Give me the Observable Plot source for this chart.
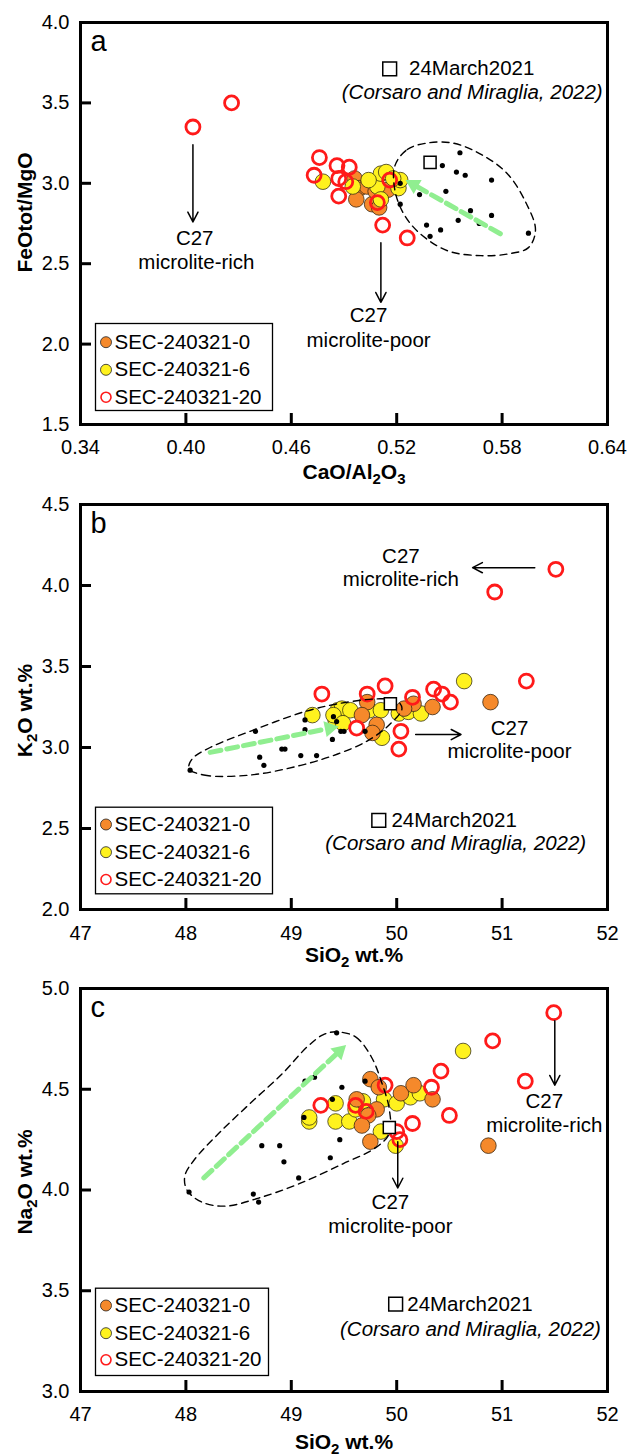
<!DOCTYPE html>
<html>
<head>
<meta charset="utf-8">
<script src="https://cdn.jsdelivr.net/npm/d3@7"></script>
<script src="https://cdn.jsdelivr.net/npm/@observablehq/plot@0.6"></script>
<style>
  body { margin: 0; background: #fff; }
  #wrap { position: relative; width: 631px; height: 1454px; background: #fff; }
  #wrap svg { position: absolute; left: 0; }
</style>
</head>
<body>
<div id="wrap"></div>
<script>
// ---------- DATA ----------
const seriesNames = ["SEC-240321-0", "SEC-240321-6", "SEC-240321-20"];
const refName = "24March2021";
const refCitation = "(Corsaro and Miraglia, 2022)";

// Panel a : CaO/Al2O3 (x) vs FeOtot/MgO (y)
const aSEC0 = [[0.496,3.03],[0.499,2.97],[0.497,2.90],[0.503,2.98],[0.506,2.87],[0.508,2.95],[0.515,2.96],[0.510,2.85]];
const aSEC6 = [[0.478,3.01],[0.495,2.98],[0.509,2.98],[0.511,3.06],[0.514,3.07],[0.521,2.97],[0.522,3.02],[0.511,2.90],[0.518,3.03],[0.504,3.02]];
const aSEC20 = [[0.404,3.35],[0.426,3.50],[0.476,3.16],[0.473,3.05],[0.486,3.11],[0.493,3.10],[0.487,3.03],[0.491,3.01],[0.487,2.92],[0.509,2.88],[0.516,3.02],[0.512,2.74],[0.526,2.66]];
const aPrev = [[0.556,3.19],[0.546,3.11],[0.554,3.07],[0.559,3.05],[0.574,3.02],[0.522,3.00],[0.548,2.95],[0.533,2.93],[0.522,2.87],[0.562,2.83],[0.574,2.80],[0.555,2.77],[0.567,2.75],[0.537,2.74],[0.545,2.71],[0.539,2.67],[0.595,2.69]];
const aMarch = [[0.539,3.13]];
const aField = [[0.519,3.11],[0.526,3.21],[0.537,3.25],[0.552,3.25],[0.568,3.18],[0.583,3.06],[0.594,2.87],[0.599,2.71],[0.595,2.60],[0.583,2.56],[0.568,2.55],[0.549,2.58],[0.533,2.69],[0.524,2.81],[0.519,2.955]];
const aTrend = [[0.579,2.686],[0.525,3.02]];
const aArrows = [{x1:0.404,y1:3.24,x2:0.404,y2:2.76},{x1:0.511,y1:2.63,x2:0.511,y2:2.26}];
const aNotes = [{x:0.405,y:2.655,t:"C27"},{x:0.406,y:2.51,t:"microlite-rich"},{x:0.504,y:2.178,t:"C27"},{x:0.504,y:2.022,t:"microlite-poor"}];
const aRefLabel = {square:[0.516,3.712], name:[0.527,3.712], cite:[0.563,3.567]};
const aXTicks = [0.34,0.40,0.46,0.52,0.58,0.64];
const aYTicks = [1.5,2.0,2.5,3.0,3.5,4.0];

// Panel b : SiO2 (x) vs K2O (y)
const bSEC0 = [[50.89,3.28],[50.34,3.25],[50.16,3.27],[50.07,3.24],[49.72,3.28],[49.67,3.20],[49.81,3.14],[49.77,3.09]];
const bSEC6 = [[50.64,3.41],[49.20,3.20],[49.44,3.23],[49.48,3.24],[49.56,3.23],[49.42,3.17],[49.74,3.23],[49.85,3.23],[50.02,3.21],[50.11,3.22],[50.23,3.21],[49.86,3.06],[49.40,3.20],[49.49,3.15]];
const bSEC20 = [[51.51,4.10],[50.93,3.96],[49.29,3.33],[49.72,3.33],[49.89,3.38],[50.15,3.31],[50.35,3.36],[50.43,3.33],[50.51,3.28],[51.23,3.41],[49.62,3.12],[50.04,3.10],[50.02,2.99]];
const bPrev = [[48.04,2.86],[48.66,3.10],[48.70,2.94],[48.74,2.89],[48.91,2.99],[48.94,2.99],[49.09,2.95],[49.24,2.95],[49.13,3.17],[49.13,3.11],[49.39,3.05],[49.47,3.10],[49.50,3.10],[49.70,3.10],[49.40,3.19],[49.43,3.16]];
const bMarch = [[49.94,3.27]];
const bField = [[48.03,2.87],[48.17,2.83],[48.61,2.83],[49.09,2.89],[49.44,2.96],[49.72,3.04],[49.93,3.14],[50.05,3.24],[50.00,3.29],[49.81,3.30],[49.44,3.27],[49.12,3.22],[48.61,3.10],[48.23,3.00],[48.06,2.93]];
const bTrend = [[48.23,2.97],[49.45,3.13]];
const bArrows = [{x1:51.31,y1:4.11,x2:50.72,y2:4.11},{x1:50.18,y1:3.08,x2:50.61,y2:3.08}];
const bNotes = [{x:50.04,y:4.179,t:"C27"},{x:50.04,y:4.037,t:"microlite-rich"},{x:51.07,y:3.12,t:"C27"},{x:51.07,y:2.977,t:"microlite-poor"}];
const bRefLabel = {square:[49.83,2.55], name:[49.95,2.55], cite:[50.56,2.405]};
const bXTicks = [47,48,49,50,51,52];
const bYTicks = [2.0,2.5,3.0,3.5,4.0,4.5];

// Panel c : SiO2 (x) vs Na2O (y)
const cSEC0 = [[49.75,4.55],[49.83,4.51],[50.04,4.48],[50.16,4.52],[50.34,4.45],[49.62,4.45],[49.81,4.40],[49.73,4.37],[49.67,4.32],[49.75,4.24],[50.87,4.22]];
const cSEC6 = [[50.63,4.69],[49.17,4.34],[49.17,4.36],[49.42,4.43],[49.42,4.34],[49.55,4.34],[49.88,4.45],[50.00,4.43],[50.13,4.46],[50.22,4.48],[49.85,4.29],[49.99,4.22],[49.61,4.40],[49.68,4.44]];
const cSEC20 = [[51.49,4.88],[50.91,4.74],[50.42,4.59],[50.33,4.51],[51.22,4.54],[50.50,4.37],[49.89,4.52],[49.28,4.42],[49.61,4.42],[49.71,4.39],[50.15,4.33],[50.00,4.29],[50.03,4.25]];
const cPrev = [[49.43,4.78],[49.13,4.54],[49.22,4.56],[49.48,4.51],[49.39,4.45],[49.12,4.36],[49.46,4.25],[48.72,4.22],[48.89,4.22],[48.93,4.14],[49.37,4.16],[49.07,4.06],[48.03,3.99],[48.64,3.98],[48.69,3.94],[49.70,4.54]];
const cMarch = [[49.93,4.31]];
const cField = [[49.42,4.785],[49.61,4.76],[49.76,4.66],[49.86,4.53],[49.93,4.40],[49.93,4.28],[49.80,4.21],[49.49,4.13],[49.07,4.03],[48.69,3.96],[48.38,3.92],[48.15,3.94],[48.01,4.00],[47.99,4.07],[48.08,4.15],[48.31,4.28],[48.61,4.43],[48.92,4.58],[49.15,4.71],[49.30,4.77]];
const cTrend = [[48.17,4.06],[49.52,4.72]];
const cArrows = [{x1:51.50,y1:4.84,x2:51.50,y2:4.52},{x1:50.01,y1:4.24,x2:50.01,y2:4.01}];
const cNotes = [{x:51.40,y:4.44,t:"C27"},{x:51.40,y:4.32,t:"microlite-rich"},{x:49.94,y:3.94,t:"C27"},{x:49.94,y:3.82,t:"microlite-poor"}];
const cRefLabel = {square:[49.99,3.434], name:[50.10,3.434], cite:[50.70,3.31]};
const cXTicks = [47,48,49,50,51,52];
const cYTicks = [3.0,3.5,4.0,4.5,5.0];

// ---------- STYLE ----------
const ORANGE = "#F5892B", YELLOW = "#FFF21E", RED = "#FF1A1A", GREEN = "#90EE90";
const FONT = "'Liberation Sans', Arial, Helvetica, sans-serif";
const X = d => d[0], Y = d => d[1];

function makePanel(p) {
  const W = 631, ml = 80, mr = 24;
  const kx = (W - ml - mr) / (p.xDomain[1] - p.xDomain[0]);
  const ky = (p.height - p.mt - p.mb) / (p.yDomain[1] - p.yDomain[0]);
  // green trend arrow geometry (pixel direction)
  const [s, t] = p.trend;
  const dxp = (t[0] - s[0]) * kx, dyp = -(t[1] - s[1]) * ky;
  const len = Math.hypot(dxp, dyp), ux = dxp / len, uy = dyp / len;
  const tipOff = 9.3, baseOff = 13;
  const headC = [[t[0] - ux * tipOff / kx, t[1] + uy * tipOff / ky]];
  const lineSeg = [s, [t[0] - ux * baseOff / kx, t[1] + uy * baseOff / ky]];
  const angle = Math.atan2(ux, -uy) * 180 / Math.PI;

  const circles = {
    o: Plot.dot(p.sec0, {x: X, y: Y, r: 7.8, fill: ORANGE, stroke: "#3b2a14", strokeWidth: 0.8}),
    y: Plot.dot(p.sec6, {x: X, y: Y, r: 7.8, fill: YELLOW, stroke: "#3b3514", strokeWidth: 0.8})
  };
  const lg = p.legend;
  const lgMarks = [
    Plot.frame({insetLeft: 15, insetRight: lg.insetRight, insetTop: lg.insetTop, insetBottom: lg.insetBottom, stroke: "black", strokeWidth: 1.3, fill: "white"}),
    Plot.dot([0], {frameAnchor: "bottom-left", dx: 25.5, dy: lg.rows[0], r: 5.5, fill: ORANGE, stroke: "#222", strokeWidth: 0.8}),
    Plot.dot([0], {frameAnchor: "bottom-left", dx: 25.5, dy: lg.rows[1], r: 5.5, fill: YELLOW, stroke: "#222", strokeWidth: 0.8}),
    Plot.dot([0], {frameAnchor: "bottom-left", dx: 25.5, dy: lg.rows[2], r: 5, fill: "none", stroke: RED, strokeWidth: 1.6}),
    ...seriesNames.map((name, i) => Plot.text([name], {frameAnchor: "bottom-left", dx: 34, dy: lg.rows[i], text: d => d, textAnchor: "start", lineAnchor: "middle", fontSize: 20.5}))
  ];

  const svg = Plot.plot({
    width: W, height: p.height,
    marginLeft: ml, marginRight: mr, marginTop: p.mt, marginBottom: p.mb,
    x: {domain: p.xDomain},
    y: {domain: p.yDomain},
    style: {fontFamily: FONT, fontSize: "20px", background: "transparent", overflow: "visible", color: "black"},
    marks: [
      ...p.order.map(k => circles[k]),
      Plot.dot(p.sec20, {x: X, y: Y, r: 7, fill: "none", stroke: RED, strokeWidth: 2.8}),
      Plot.line(p.field, {x: X, y: Y, curve: "catmull-rom-closed", stroke: "black", strokeWidth: 1.4, strokeDasharray: "7,5"}),
      Plot.dot(p.prev, {x: X, y: Y, r: 2.6, fill: "black"}),
      Plot.line(lineSeg, {x: X, y: Y, stroke: GREEN, strokeWidth: 5, strokeDasharray: "11,6"}),
      Plot.dot(headC, {x: X, y: Y, symbol: "triangle", r: 6, fill: GREEN, rotate: angle}),
      Plot.dot(p.march, {x: X, y: Y, symbol: "square", r: 6.8, fill: "white", stroke: "black", strokeWidth: 1.5}),
      // reference label
      Plot.dot([p.ref.square], {x: X, y: Y, symbol: "square", r: 7.8, fill: "white", stroke: "black", strokeWidth: 1.5}),
      Plot.text([p.ref.name], {x: X, y: Y, text: () => refName, textAnchor: "start", fontSize: 20.5}),
      Plot.text([p.ref.cite], {x: X, y: Y, text: () => refCitation, fontStyle: "italic", fontSize: 20.5}),
      // C27 annotations
      Plot.arrow(p.arrows, {x1: "x1", y1: "y1", x2: "x2", y2: "y2", stroke: "black", strokeWidth: 1.5, headLength: 11, headAngle: 55}),
      Plot.text(p.notes, {x: "x", y: "y", text: "t", fontSize: 20.5}),
      ...lgMarks,
      // panel letter
      Plot.text([p.letter], {frameAnchor: "top-left", dx: 10, dy: 19, text: d => d, textAnchor: "start", lineAnchor: "middle", fontSize: 29}),
      // frame, inward ticks, axes
      Plot.frame({stroke: "black", strokeWidth: 3}),
      Plot.ruleX(p.xTicks, {x: d => d, y1: () => p.yDomain[0], y2: () => p.yDomain[0], insetBottom: 11, stroke: "black", strokeWidth: 3}),
      Plot.ruleY(p.yTicks, {y: d => d, x1: () => p.xDomain[0], x2: () => p.xDomain[0], insetRight: -11, stroke: "black", strokeWidth: 3}),
      Plot.axisX(p.xTicks, {tickSize: 0, tickPadding: p.xPad, tickFormat: p.xFmt, fontSize: 20, label: null}),
      Plot.axisY(p.yTicks, {tickSize: 0, tickPadding: 11, tickFormat: d3.format(".1f"), fontSize: 20, label: null}),
      Plot.text([p.xTitle], {frameAnchor: "bottom", dx: p.xTitleDx, dy: p.xTitleDy, text: d => d, textAnchor: "middle", lineAnchor: "middle", fontSize: 21, fontWeight: "bold"}),
      Plot.text([p.yTitle], {frameAnchor: "left", dx: -55, dy: p.yTitleDy, rotate: -90, text: d => d, textAnchor: "middle", lineAnchor: "middle", fontSize: 21, fontWeight: "bold"})
    ]
  });
  svg.style.position = "absolute";
  svg.style.top = p.top + "px";
  subscripts(svg);
  return svg;
}

function subscripts(svg) {
  const NS = "http://www.w3.org/2000/svg";
  svg.querySelectorAll("text").forEach(t => {
    const s = t.textContent;
    if (!/[\u2082\u2083]/.test(s) || t.querySelector("tspan")) return;
    t.textContent = "";
    let shifted = false;
    for (const part of s.split(/([\u2082\u2083])/)) {
      if (!part) continue;
      const ts = document.createElementNS(NS, "tspan");
      if (part === "\u2082" || part === "\u2083") {
        ts.textContent = part === "\u2082" ? "2" : "3";
        ts.setAttribute("font-size", "15");
        ts.setAttribute("dy", shifted ? "0" : "5");
        shifted = true;
      } else {
        ts.textContent = part;
        if (shifted) { ts.setAttribute("dy", "-5"); shifted = false; }
      }
      t.appendChild(ts);
    }
  });
}

const wrap = document.getElementById("wrap");
wrap.appendChild(makePanel({
  top: 0, height: 490, mt: 22, mb: 66,
  xDomain: [0.34, 0.64], yDomain: [1.5, 4.0], xTicks: aXTicks, yTicks: aYTicks,
  xFmt: d3.format(".2f"), xPad: 15,
  sec0: aSEC0, sec6: aSEC6, sec20: aSEC20, prev: aPrev, march: aMarch, field: aField, trend: aTrend,
  arrows: aArrows, notes: aNotes, ref: aRefLabel, order: ["o", "y"], letter: "a",
  xTitle: "CaO/Al\u2082O\u2083", xTitleDx: 10, xTitleDy: 48, yTitle: "FeOtot/MgO", yTitleDy: -11,
  legend: {insetTop: 301, insetBottom: 14, insetRight: 335, rows: [-82.3, -54.7, -27.3]}
}));
wrap.appendChild(makePanel({
  top: 480, height: 490, mt: 24, mb: 61,
  xDomain: [47, 52], yDomain: [2.0, 4.5], xTicks: bXTicks, yTicks: bYTicks,
  xFmt: d3.format("d"), xPad: 16,
  sec0: bSEC0, sec6: bSEC6, sec20: bSEC20, prev: bPrev, march: bMarch, field: bField, trend: bTrend,
  arrows: bArrows, notes: bNotes, ref: bRefLabel, order: ["y", "o"], letter: "b",
  xTitle: "SiO\u2082 wt.%", xTitleDx: 10, xTitleDy: 46, yTitle: "K\u2082O wt.%", yTitleDy: 3.5,
  legend: {insetTop: 302.7, insetBottom: 15.7, insetRight: 335, rows: [-85, -57.3, -30]}
}));
wrap.appendChild(makePanel({
  top: 960, height: 494, mt: 28, mb: 63,
  xDomain: [47, 52], yDomain: [3.0, 5.0], xTicks: cXTicks, yTicks: cYTicks,
  xFmt: d3.format("d"), xPad: 15,
  sec0: cSEC0, sec6: cSEC6, sec20: cSEC20, prev: cPrev, march: cMarch, field: cField, trend: cTrend,
  arrows: cArrows, notes: cNotes, ref: cRefLabel, order: ["y", "o"], letter: "c",
  xTitle: "SiO\u2082 wt.%", xTitleDx: 0, xTitleDy: 50.5, yTitle: "Na\u2082O wt.%", yTitleDy: -8,
  legend: {insetTop: 299.7, insetBottom: 16, insetRight: 339, rows: [-86, -58.3, -31.7]}
}));
</script>
</body>
</html>
